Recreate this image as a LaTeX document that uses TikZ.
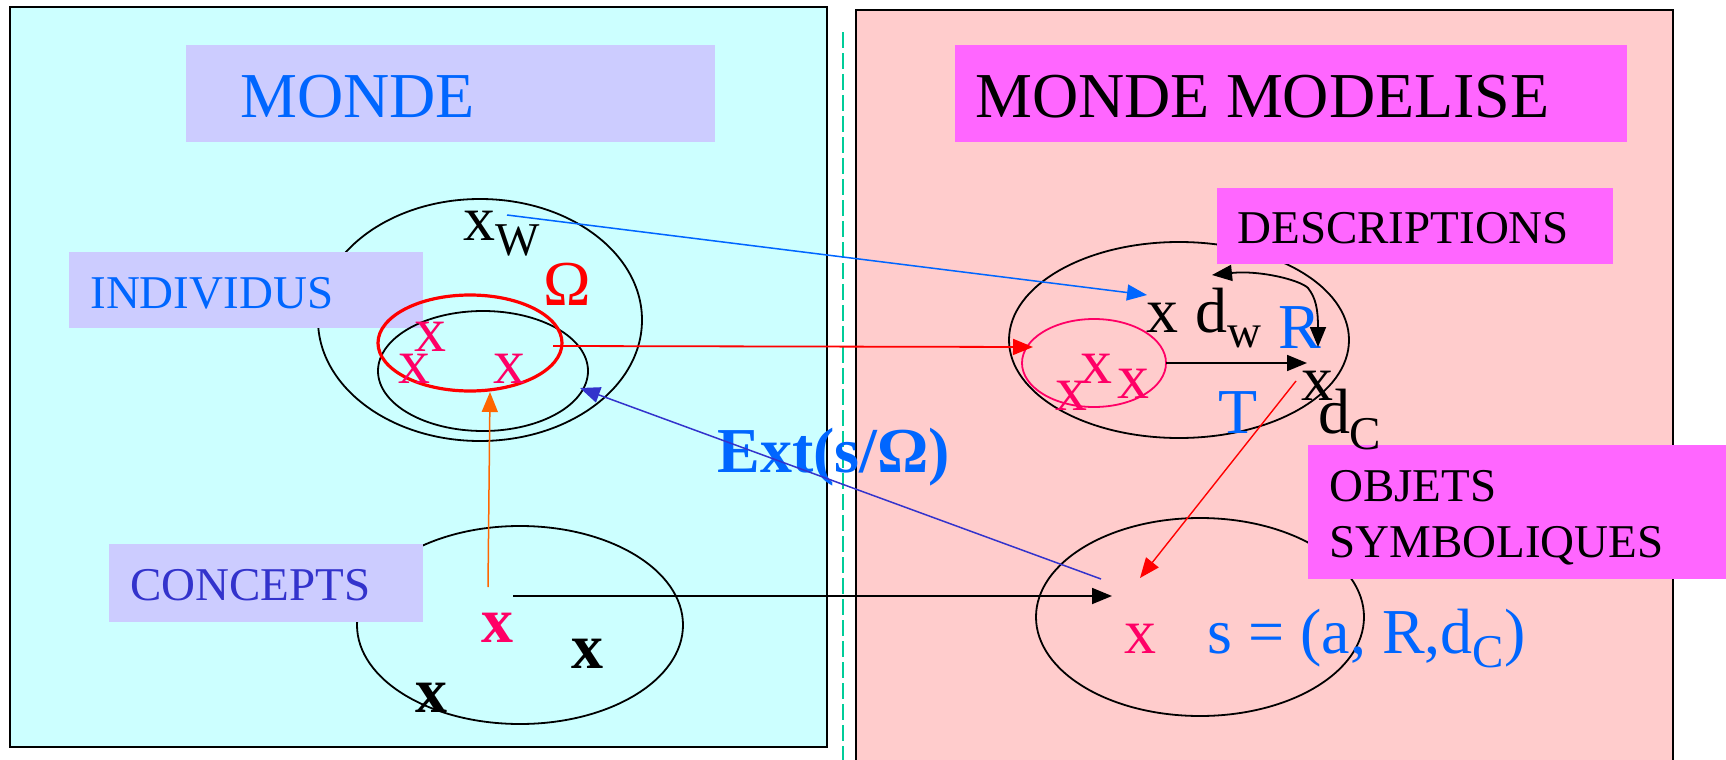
\documentclass[tikz,border=0pt]{standalone}
\usepackage{fontspec}
\setmainfont{Liberation Serif}
\usetikzlibrary{arrows.meta}
\definecolor{cyanbg}{HTML}{CCFFFF}
\definecolor{pinkbg}{HTML}{FFCCCC}
\definecolor{lav}{HTML}{CCCCFF}
\definecolor{mag}{HTML}{FF66FF}
\definecolor{bl}{HTML}{0066FF}
\definecolor{purp}{HTML}{3333CC}
\definecolor{xred}{HTML}{FF0066}
\definecolor{orng}{HTML}{FF6600}
\definecolor{dashc}{HTML}{00CC99}
\newcommand\fbig{\fontsize{32}{36}\selectfont}
\newcommand\fmed{\fontsize{23.5}{28}\selectfont}
\begin{document}
\begin{tikzpicture}[x=0.5pt,y=-0.5pt,
  txt/.style={inner sep=0,anchor=base west},
  ctxt/.style={inner sep=0,anchor=base},
  boxn/.style={inner sep=0,anchor=north west,draw=none},
  ell/.style={line width=0.9pt},
  arr/.style={line width=0.9pt,-{Triangle[length=10pt,width=8pt]}},
  ]
\useasboundingbox (0,0) rectangle (1726,760);
% panels
\path[fill=cyanbg,draw=black,line width=0.8pt] (10,7) rectangle (827,747);
\path[fill=pinkbg,draw=black,line width=0.8pt] (856,10) rectangle (1673,790);
\draw[dashc,line width=0.8pt,dash pattern=on 8pt off 2.5pt] (843,32) -- (843,760);
% ellipses behind boxes
\draw[ell] (480,320) ellipse [x radius=81pt,y radius=60.5pt];
\draw[ell] (520,625) ellipse [x radius=81.5pt,y radius=49.5pt];
\draw[ell] (1179,340) ellipse [x radius=85pt,y radius=49pt];
\draw[ell] (1200,617) ellipse [x radius=82pt,y radius=49.5pt];
% boxes
\node[boxn,fill=lav,minimum width=264.5pt,minimum height=48.5pt] (mondebox) at (186,45) {};
\node[boxn,fill=mag,minimum width=336pt,minimum height=48.5pt] (modelbox) at (955,45) {};
\node[boxn,fill=mag,minimum width=198pt,minimum height=38pt] (descbox) at (1217,188) {};
\node[boxn,fill=lav,minimum width=177pt,minimum height=38pt] (indbox) at (69,252) {};
\node[boxn,fill=lav,minimum width=157pt,minimum height=39pt] (concbox) at (109,544) {};
\node[boxn,fill=mag,minimum width=209pt,minimum height=67pt] (objbox) at (1308,445) {};
% inner ellipses
\draw[ell] (483,371) ellipse [x radius=52.5pt,y radius=30pt];
\draw[red,line width=1.6pt] (470,343) ellipse [x radius=46pt,y radius=24pt];
\draw[xred,line width=0.9pt] (1094,363) ellipse [x radius=36pt,y radius=22pt];
% box texts
\node[txt,font=\fbig,text=bl] (mondet) at (240,117) {MONDE};
\node[txt,font=\fbig] (modelt) at (975,117) {MONDE MODELISE};
\node[txt,font=\fmed] (desct) at (1237,243) {DESCRIPTIONS};
\node[txt,font=\fmed,text=bl] (indt) at (90,308) {INDIVIDUS};
\node[txt,font=\fmed,text=purp] (conct) at (130,600) {CONCEPTS};
\node[txt,font=\fmed] (objt) at (1329,501) {OBJETS};
\node[txt,font=\fmed] (symt) at (1329,557) {SYMBOLIQUES};
% left world labels
\node[txt,font=\fbig] (xw) at (463,240) {x};
\node[txt,font=\fmed] (xwsub) at (495,255) {W};
\node[ctxt,font=\fbig,text=red] (omega) at (567,305) {Ω};
\node[ctxt,font=\fbig,text=xred] (ra) at (430,351) {x};
\node[ctxt,font=\fbig,text=xred] (rb) at (414,383) {x};
\node[ctxt,font=\fbig,text=xred] (rc) at (509,383) {x};
\node[ctxt,font=\fbig\bfseries,text=xred] (cx) at (497,642) {x};
\node[ctxt,font=\fbig\bfseries] (cy) at (587,668) {x};
\node[ctxt,font=\fbig\bfseries] (cz) at (431,712) {x};
% right world labels
\node[ctxt,font=\fbig] (xd) at (1162,332) {x};
\node[txt,font=\fbig] (dw) at (1195,332) {d};
\node[txt,font=\fmed] (dwsub) at (1227,347) {w};
\node[txt,font=\fbig,text=bl] (rlab) at (1278,348) {R};
\node[ctxt,font=\fbig,text=xred] (sa) at (1071,410) {x};
\node[ctxt,font=\fbig,text=xred] (sb) at (1096,383) {x};
\node[ctxt,font=\fbig,text=xred] (sc) at (1133,398) {x};
\node[ctxt,font=\fbig,text=bl] (tlab) at (1238,433) {T};
\node[ctxt,font=\fbig] (xc) at (1317,400) {x};
\node[txt,font=\fbig] (dc) at (1318,433) {d};
\node[txt,font=\fmed] (dcsub) at (1349,449) {C};
\node[ctxt,font=\fbig,text=xred] (ox) at (1140,653) {x};
\node[txt,font=\fbig,text=bl] (sdef) at (1207,653) {s = (a, R,d\raisebox{-7pt}{\fmed C})};
\node[txt,font=\fbig\bfseries,text=bl] (ext) at (717,472) {Ext(s/Ω)};
% connector end points
\coordinate (b1) at (507,215);
\coordinate (b2) at (1147,295);
\coordinate (r1) at (553,346);
\coordinate (r2) at (1033,347);
\coordinate (p1) at (1101,579);
\coordinate (p2) at (580,388);
\coordinate (o1) at (488,587);
\coordinate (o2) at (490,392);
\coordinate (k1) at (513,596);
\coordinate (k2) at (1112,596);
\coordinate (t1) at (1166,363);
\coordinate (t2) at (1307,363);
\coordinate (q1) at (1296,381);
\coordinate (q2) at (1140,578);
\coordinate (c1) at (1212,275);
\coordinate (c2) at (1318,347);
% connectors
\draw[arr,bl,line width=0.75pt] (b1) -- (b2);
\draw[arr,red] (r1) -- (r2);
\draw[arr,purp,line width=0.75pt] (p1) -- (p2);
\draw[arr,orng,line width=0.75pt] (o1) -- (o2);
\draw[arr] (k1) -- (k2);
\draw[arr] (t1) -- (t2);
\draw[arr,red,line width=0.7pt] (q1) -- (q2);
\draw[line width=0.9pt,{Triangle[length=10pt,width=8pt]}-{Triangle[length=10pt,width=8pt]}] (c1) .. controls (1260,270) and (1300,280) .. (1308,288) .. controls (1316,298) and (1318,310) .. (c2);
\end{tikzpicture}
\end{document}
